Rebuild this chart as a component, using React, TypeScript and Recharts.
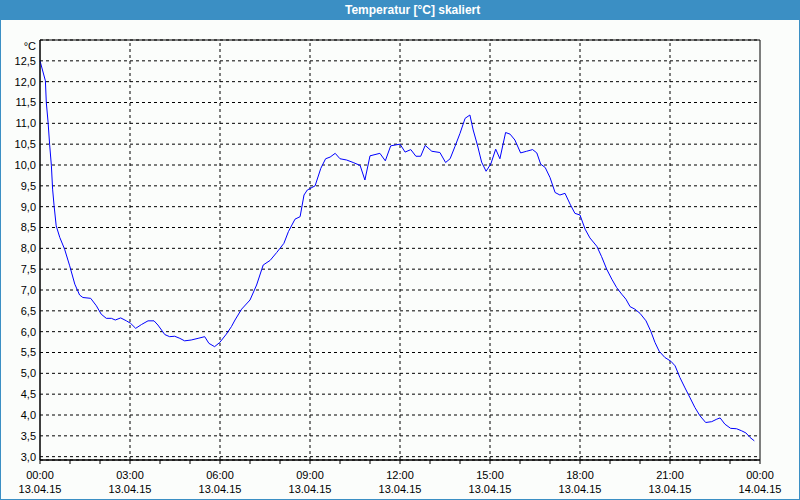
import React from 'react';
import { LineChart, Line, XAxis, YAxis, CartesianGrid, ReferenceLine, ReferenceArea, Label } from 'recharts';

// Stunden seit 13.04.15 00:00
const hours = [
  0.0, 0.18, 0.21, 0.27, 0.32, 0.38, 0.42, 0.47, 0.54, 0.66, 0.82, 0.99, 1.16, 1.32, 1.43, 1.69, 1.88,
  2.04, 2.21, 2.38, 2.51, 2.69, 2.88, 3.02, 3.19, 3.38, 3.6, 3.8, 3.93, 4.16, 4.32, 4.49, 4.66, 4.82,
  5.04, 5.27, 5.49, 5.63, 5.82, 5.99, 6.21, 6.38, 6.5, 6.72, 7.0, 7.22, 7.44, 7.67, 7.89, 8.13, 8.28,
  8.5, 8.67, 8.8, 8.91, 9.17, 9.36, 9.52, 9.67, 9.84, 10.0, 10.22, 10.44, 10.67, 10.83, 11.0, 11.33,
  11.51, 11.69, 12.0, 12.17, 12.36, 12.53, 12.69, 12.84, 13.06, 13.33, 13.52, 13.67, 13.83, 14.0,
  14.17, 14.33, 14.44, 14.58, 14.72, 14.87, 15.03, 15.19, 15.33, 15.52, 15.67, 15.83, 16.02, 16.22,
  16.42, 16.56, 16.69, 16.84, 17.0, 17.17, 17.33, 17.5, 17.67, 17.83, 18.0, 18.17, 18.33, 18.56,
  18.72, 18.89, 19.06, 19.22, 19.39, 19.53, 19.67, 19.83, 20.0, 20.2, 20.36, 20.5, 20.64, 20.83,
  21.03, 21.17, 21.33, 21.5, 21.67, 21.83, 22.0, 22.19, 22.39, 22.56, 22.67, 22.83, 23.02, 23.22,
  23.39, 23.53, 23.67, 23.81,
];

const temps = [
  12.5, 12.02, 11.5, 11.02, 10.5, 9.98, 9.42, 9.02, 8.54, 8.26, 7.98, 7.58, 7.14, 6.88, 6.82, 6.8, 6.62,
  6.42, 6.32, 6.32, 6.28, 6.33, 6.26, 6.2, 6.08, 6.17, 6.26, 6.26, 6.16, 5.93, 5.88, 5.89, 5.84, 5.78,
  5.8, 5.84, 5.88, 5.72, 5.64, 5.74, 5.94, 6.12, 6.28, 6.54, 6.76, 7.12, 7.6, 7.71, 7.9, 8.12, 8.4,
  8.7, 8.76, 9.28, 9.4, 9.5, 9.92, 10.15, 10.19, 10.28, 10.15, 10.12, 10.06, 9.99, 9.64, 10.22, 10.28,
  10.1, 10.46, 10.5, 10.31, 10.37, 10.21, 10.21, 10.47, 10.33, 10.3, 10.06, 10.15, 10.44, 10.76,
  11.12, 11.2, 10.84, 10.48, 10.07, 9.85, 10.03, 10.38, 10.15, 10.78, 10.74, 10.6, 10.29, 10.33,
  10.37, 10.29, 10.02, 9.94, 9.7, 9.34, 9.28, 9.32, 9.06, 8.84, 8.8, 8.46, 8.25, 8.05,
  7.8, 7.5, 7.26, 7.06, 6.9, 6.78, 6.6, 6.54, 6.44, 6.26, 6.01, 5.74, 5.53, 5.38,
  5.29, 5.18, 4.9, 4.65, 4.41, 4.18, 3.98, 3.82, 3.84, 3.9, 3.93, 3.78, 3.68, 3.67,
  3.62, 3.57, 3.46, 3.38,
];

const hourTicks = [0, 1, 2, 3, 4, 5, 6, 7, 8, 9, 10, 11, 12, 13, 14, 15, 16, 17, 18, 19, 20, 21, 22, 23, 24];
const majorHours = [0, 3, 6, 9, 12, 15, 18, 21, 24];
const timeLabels = ['00:00', '03:00', '06:00', '09:00', '12:00', '15:00', '18:00', '21:00', '00:00'];
const dateLabels = ['13.04.15', '13.04.15', '13.04.15', '13.04.15', '13.04.15', '13.04.15', '13.04.15', '13.04.15', '14.04.15'];
const gridHours = [3, 6, 9, 12, 15, 18, 21];
const tempTicks = [3.0, 3.5, 4.0, 4.5, 5.0, 5.5, 6.0, 6.5, 7.0, 7.5, 8.0, 8.5, 9.0, 9.5, 10.0, 10.5, 11.0, 11.5, 12.0, 12.5];

const data = hours.map((h, i) => ({ h, temp: temps[i] }));

const FONT = '"Liberation Sans", Arial, sans-serif';
const BLUE = '#3b8fc4';

const TimeTick = (props: any) => {
  const { x, y, payload } = props;
  const idx = majorHours.indexOf(payload.value);
  if (idx < 0) return <g />;
  return (
    <g>
      <text x={x} y={y + 13} textAnchor="middle" fontSize={11} fontFamily={FONT} fill="#000">
        {timeLabels[idx]}
      </text>
      <text x={x} y={y + 27} textAnchor="middle" fontSize={11} fontFamily={FONT} fill="#000">
        {dateLabels[idx]}
      </text>
    </g>
  );
};

const App: React.FC = () => {
  return (
    <div
      style={{
        position: 'fixed',
        left: 0,
        top: 0,
        width: 800,
        height: 500,
        boxSizing: 'border-box',
        background: '#fbfdfb',
        borderLeft: `1px solid ${BLUE}`,
        borderRight: `1px solid ${BLUE}`,
        borderBottom: `1px solid ${BLUE}`,
        fontFamily: FONT,
      }}
    >
      {/* Titelleiste */}
      <div
        style={{
          position: 'absolute',
          left: -1,
          top: 0,
          width: 800,
          height: 20,
          background: BLUE,
          color: '#fff',
          fontWeight: 'bold',
          fontSize: 12,
          lineHeight: '20px',
        }}
      >
        <span style={{ position: 'absolute', left: 345 }}>Temperatur [°C] skaliert</span>
      </div>

      <div style={{ position: 'absolute', left: -1, top: 0 }}>
        <LineChart width={800} height={500} data={data} margin={{ top: 40, right: 40, bottom: 0, left: 0 }}>
          <CartesianGrid vertical={false} stroke="#000" strokeDasharray="3 3" />
          {gridHours.map((g) => (
            <ReferenceLine key={g} x={g} stroke="#000" strokeDasharray="3 3" />
          ))}
          <XAxis
            dataKey="h"
            type="number"
            domain={[0, 24]}
            ticks={hourTicks}
            interval={0}
            height={40}
            tickSize={4}
            tickMargin={2}
            axisLine={{ stroke: '#000' }}
            tickLine={{ stroke: '#000' }}
            tick={<TimeTick />}
          />
          <YAxis
            type="number"
            domain={[2.92, 13.0]}
            ticks={tempTicks}
            interval={0}
            width={40}
            tickSize={0}
            tickMargin={4}
            axisLine={{ stroke: '#000' }}
            tickLine={false}
            tick={{ fontSize: 11, fill: '#000', fontFamily: FONT }}
            tickFormatter={(v: number) => v.toFixed(1).replace('.', ',')}
          >
            <Label
              content={(p: any) => (
                <text x={36} y={50} textAnchor="end" fontSize={11} fontFamily={FONT} fill="#000">
                  °C
                </text>
              )}
            />
          </YAxis>
          <ReferenceArea x1={0} x2={24} y1={2.92} y2={13.0} fill="none" stroke="#000" ifOverflow="visible" />
          <Line
            type="linear"
            dataKey="temp"
            stroke="#0000ff"
            strokeWidth={1}
            dot={false}
            isAnimationActive={false}
          />
        </LineChart>
      </div>
    </div>
  );
};

export default App;
